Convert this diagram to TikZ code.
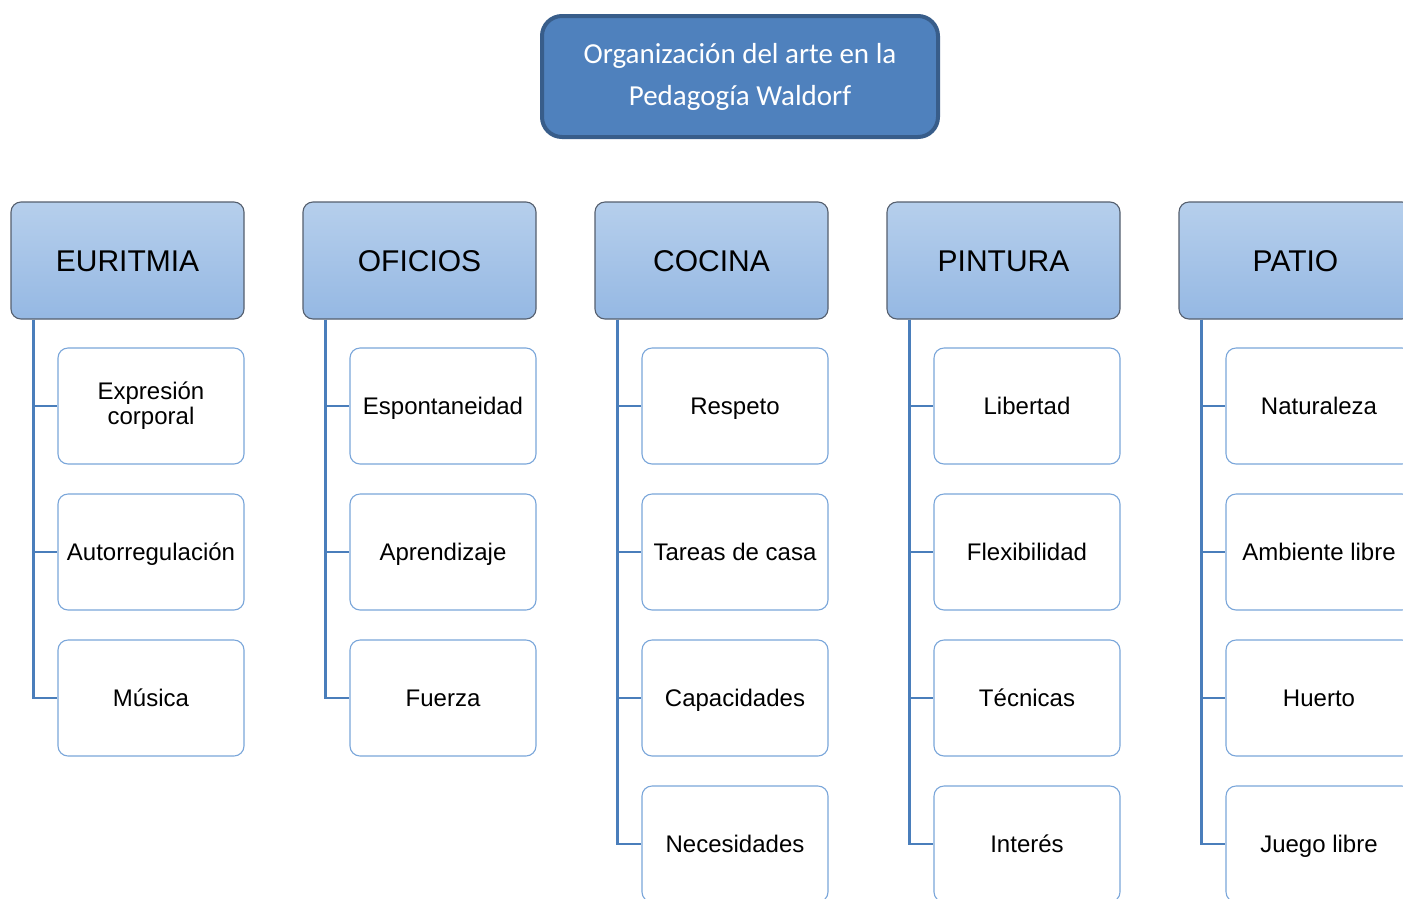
\documentclass[tikz,border=0pt]{standalone}
\usepackage{fontspec}
\setmainfont{Liberation Sans}
\newfontfamily\calibri{Carlito}
\usetikzlibrary{calc}
\definecolor{titlefill}{RGB}{79,129,189}
\definecolor{titledraw}{RGB}{56,93,138}
\definecolor{headtop}{RGB}{182,207,236}
\definecolor{headbot}{RGB}{149,184,227}
\definecolor{headdraw}{RGB}{85,95,110}
\definecolor{childdraw}{RGB}{122,166,218}
\definecolor{conn}{RGB}{74,126,187}
\tikzset{
  titlebox/.style={draw=titledraw, line width=4pt, fill=titlefill, rounded corners=20pt,
    minimum width=396pt, minimum height=121pt, inner sep=0pt, align=center,
    text=white, font=\calibri\fontsize{29}{42}\selectfont},
  headbox/.style={draw=headdraw, line width=1.1pt, top color=headtop, bottom color=headbot,
    rounded corners=10pt, minimum width=233pt, minimum height=117pt, inner sep=0pt,
    text height=21.5pt, text depth=0pt, font=\fontsize{30}{36}\selectfont},
  childbox/.style={draw=childdraw, line width=1.1pt, fill=white, rounded corners=10pt,
    minimum width=186pt, minimum height=116pt, inner sep=0pt,
    font=\fontsize{24}{25}\selectfont},
  ol/.style={text height=17.2pt, text depth=0pt},
  tl/.style={align=center},
  connline/.style={draw=conn, line width=2.6pt}
}
\begin{document}
\begin{tikzpicture}[x=1pt,y=-1pt]
\clip (0,0) rectangle (1403,898);
\fill[white] (0,0) rectangle (1403,898);
\node[titlebox] (title) at (740,76.5) {Organización del arte en la\\Pedagogía Waldorf};
\foreach \i/\name/\kids in {0/EURITMIA/{tl/{Expresión\\corporal},ol/Autorregulación,ol/Música},
                            1/OFICIOS/{ol/Espontaneidad,ol/Aprendizaje,ol/Fuerza},
                            2/COCINA/{ol/Respeto,ol/Tareas de casa,ol/Capacidades,ol/Necesidades},
                            3/PINTURA/{ol/Libertad,ol/Flexibilidad,ol/Técnicas,ol/Interés},
                            4/PATIO/{ol/Naturaleza,ol/Ambiente libre,ol/Huerto,ol/Juego libre}} {
  \node[headbox] (h\i) at ({127.5+292*\i},260.5) {\name};
  \coordinate (t\i) at ($(h\i.south west)+(23,0)$);
  \foreach \o/\k [count=\j from 0] in \kids {
    \node[childbox,\o] (c\i-\j) at ({151+292*\i},{406+146*\j}) {\k};
    \draw[connline] (t\i) |- (c\i-\j.west);
  }
}
\end{tikzpicture}
\end{document}
